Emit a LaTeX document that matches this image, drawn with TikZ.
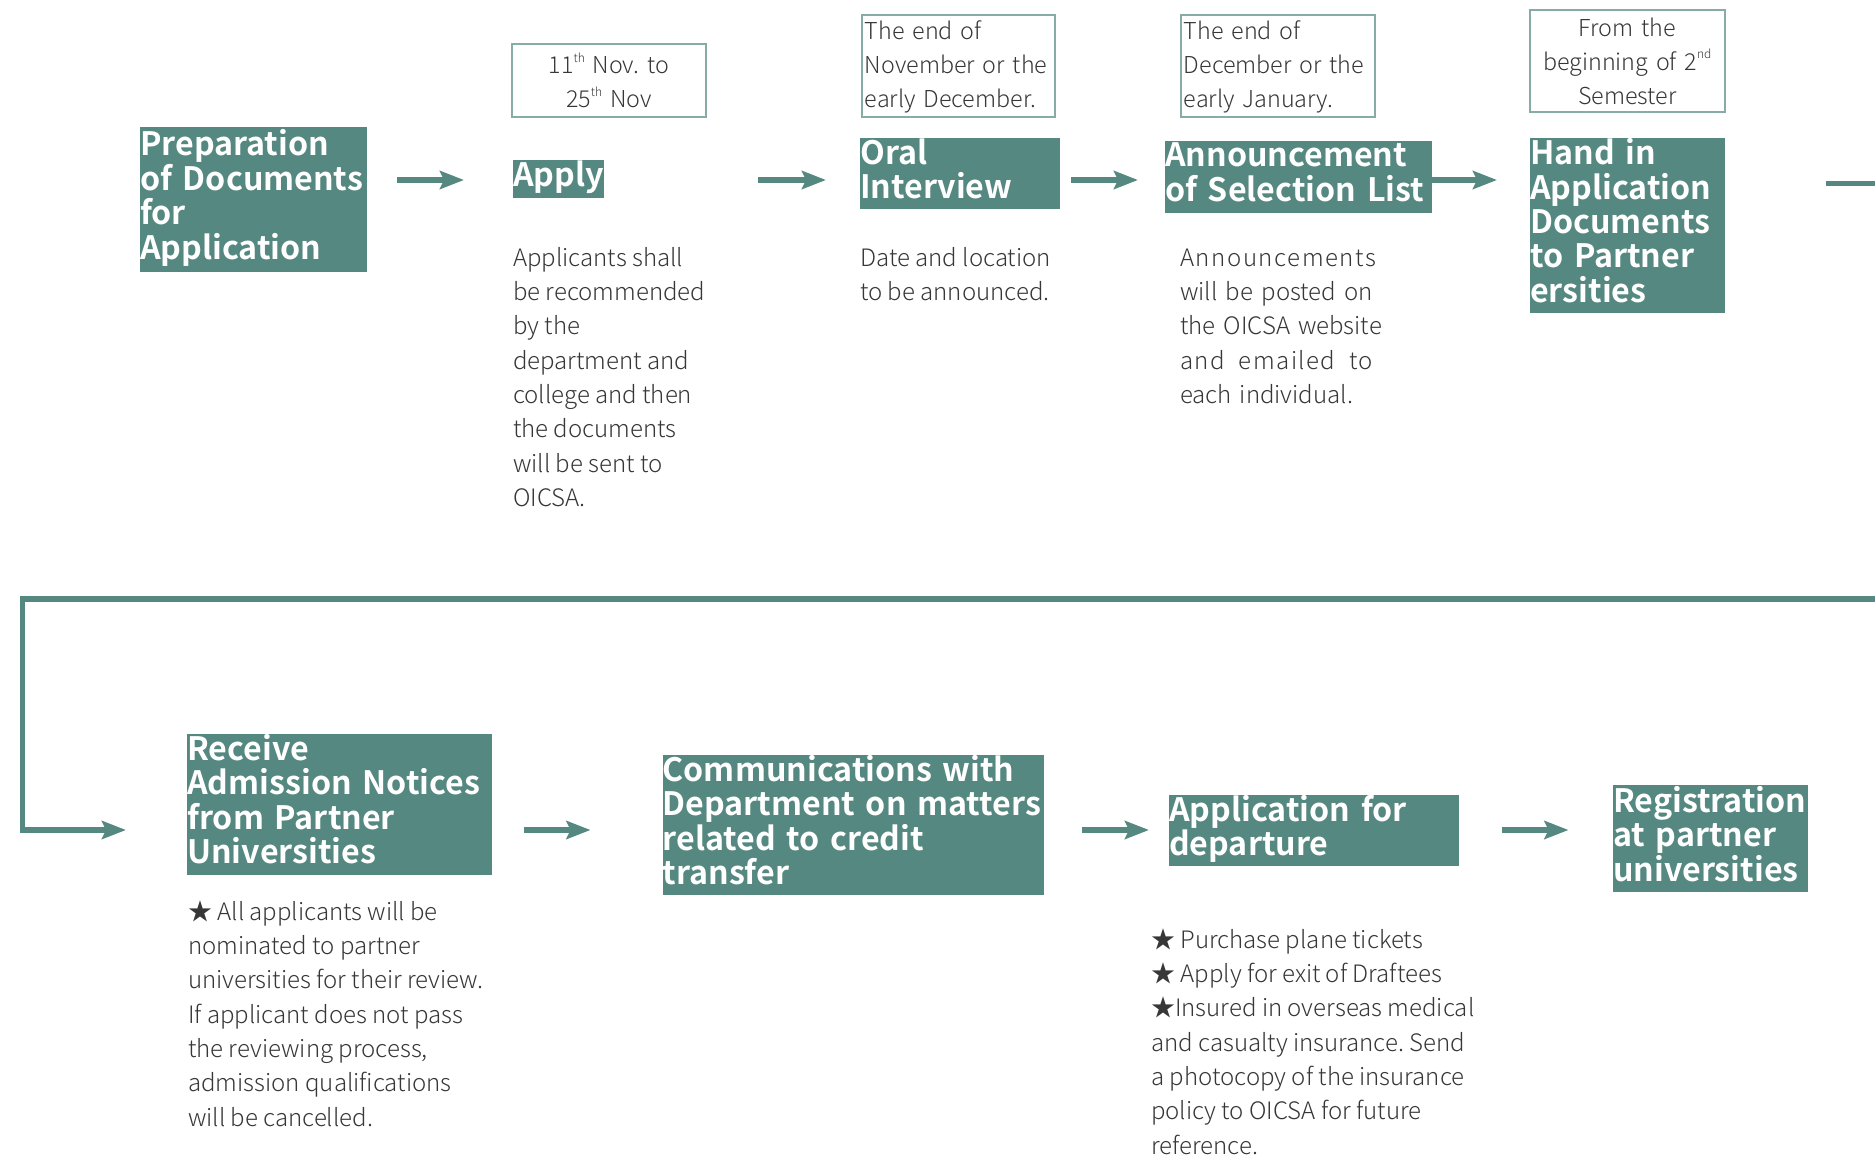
\documentclass[tikz,border=0pt]{standalone}
\usepackage{fontspec}
\usetikzlibrary{arrows.meta}
\newfontfamily\bodyfont{Noto Sans CJK TC}[UprightFont=* Light]
\newfontfamily\headfont{Noto Sans CJK TC}[UprightFont=* Bold]
\definecolor{teal1}{RGB}{85,136,128}
\definecolor{datebd}{RGB}{135,172,167}
\definecolor{txt}{RGB}{55,55,55}
\frenchspacing
\newcommand\sups[1]{\raisebox{0.5em}{\fontsize{12}{12}\selectfont #1}}
\newcommand\headsty{\headfont\fontsize{32.2}{34.4}\selectfont\lineskiplimit=-50pt\hyphenpenalty=10000\frenchspacing\relax}
\newcommand\bodysty{\bodyfont\fontsize{24}{34.3}\selectfont\lineskiplimit=-50pt\hyphenpenalty=10000\frenchspacing\relax}
\newcommand\datesty{\bodyfont\fontsize{23.3}{34}\selectfont\lineskiplimit=-50pt\hyphenpenalty=10000\frenchspacing\relax}
\tikzset{
  stage/.style={fill=teal1, text=white, font=\headsty,
    inner xsep=0pt, inner ysep=0pt, align=left, anchor=north west},
  bodytxt/.style={font=\bodysty, text=txt,
    inner sep=0pt, align=left, anchor=north west},
  datebox/.style={draw=datebd, line width=1.8pt, inner xsep=3pt, inner ysep=0pt,
    font=\datesty, text=txt, anchor=north west},
  arr/.style={draw=teal1, line width=5.3pt, -{Stealth[length=24pt, width=18pt, inset=4pt]}},
}
\begin{document}
\begin{tikzpicture}[x=1pt, y=-1pt]
\useasboundingbox (0,0) rectangle (1875,1158);
\fill[white] (0,0) rectangle (1875,1158);
\clip (0,0) rectangle (1875,1158);
\coordinate (r1) at (0,180);
\coordinate (r1b) at (0,183.5);
\coordinate (r2) at (0,830);
\coordinate (c1) at (1900,183.5);
\coordinate (c2) at (1900,599);
\coordinate (c3) at (22.7,599);
\coordinate (c4) at (22.7,830);

% top row stages
\node[stage, text width=227pt, minimum height=145pt] (prep) at (140,127) {\strut Preparation\\of~Documents\\for\\Application\strut};
\node[stage, text width=91pt, minimum height=38pt] (apply) at (513,160) {\strut Apply\strut};
\node[stage, text width=200pt, minimum height=71pt] (oral) at (860,138) {\strut Oral\\Interview\strut};
\node[stage, text width=267pt, minimum height=72pt] (ann) at (1165,141) {\strut Announcement\\of~Selection~List\strut};
\node[stage, text width=195pt, minimum height=175pt] (hand) at (1530,138) {\strut Hand~in\\Application\\Documents\\to~Partner\\ersities\strut};

% date boxes
\node[datebox, text width=188pt, minimum height=73pt, align=center] (d1) at (511,43) {11\sups{th} Nov. to\\25\sups{th} Nov};
\node[datebox, text width=187pt, minimum height=102pt, align=left] (d2) at (861,14.5) {The end of\\November~or~the\\early~December.};
\node[datebox, text width=188pt, minimum height=102pt, align=left] (d3) at (1180,14.5) {The end of\\December~or~the\\early~January.};
\node[datebox, text width=189pt, minimum height=102pt, align=center] (d4) at (1529,9) {From the\\beginning~of~2\sups{nd}\\Semester};

% top row texts
\node[bodytxt] (applytxt) at (513,242) {\strut Applicants shall\\be recommended\\by the\\department and\\college and then\\the documents\\will be sent to\\OICSA.};
\node[bodytxt] (oraltxt) at (860,242) {\strut Date and location\\to be announced.};
\node[bodytxt, text width=193pt] (anntxt) at (1180,242) {\strut\makebox[193pt][s]{\addfontfeature{LetterSpace=6.5}Announcements}\\\makebox[193pt][s]{will\hfill be\hfill posted\hfill on}\\\makebox[193pt][s]{the OICSA website}\\\makebox[193pt][s]{\addfontfeature{LetterSpace=6}and\hfill emailed\hfill to}\\each individual.};

% bottom row stages
\node[stage, text width=305pt, minimum height=141pt] (recv) at (187,733.5) {\strut Receive\\Admission~Notices\\from~Partner\\Universities\strut};
\node[stage, text width=381.5pt, minimum height=139pt] (comm) at (662.5,755) {\strut Communications~with\\Department~on~matters\\related~to~credit\\transfer\strut};
\node[stage, text width=289.5pt, minimum height=70.5pt] (dep) at (1169,795) {\strut Application~for\\departure\strut};
\node[stage, text width=195pt, minimum height=107pt] (reg) at (1613,785) {\strut Registration\\at~partner\\universities\strut};

% bottom row texts
\node[bodytxt] (recvtxt) at (188,896) {\strut ★ All applicants will be\\nominated to partner\\universities for their review.\\If applicant does not pass\\the reviewing process,\\admission qualifications\\will be cancelled.};
\node[bodytxt] (deptxt) at (1151,924) {\strut ★ Purchase plane tickets\\★ Apply for exit of Draftees\\★Insured in overseas medical\\and casualty insurance. Send\\a photocopy of the insurance\\policy to OICSA for future\\reference.};

% connectors
\draw[arr] ([xshift=30pt]prep.east |- r1) -- ([xshift=-49pt]apply.west |- r1);
\draw[arr] ([xshift=154pt]apply.east |- r1) -- ([xshift=-34pt]oral.west |- r1);
\draw[arr] ([xshift=11pt]oral.east |- r1) -- ([xshift=-27pt]ann.west |- r1);
\draw[arr] (ann.east |- r1) -- ([xshift=-33pt]hand.west |- r1);
\draw[arr] ([xshift=101pt]hand.east |- r1b) -- (c1) -- (c2) -- (c3) -- (c4) -- ([xshift=-61pt]recv.west |- r2);
\draw[arr] ([xshift=32pt]recv.east |- r2) -- ([xshift=-72pt]comm.west |- r2);
\draw[arr] ([xshift=37.6pt]comm.east |- r2) -- ([xshift=-20pt]dep.west |- r2);
\draw[arr] ([xshift=43.5pt]dep.east |- r2) -- ([xshift=-44.5pt]reg.west |- r2);
\end{tikzpicture}
\end{document}
